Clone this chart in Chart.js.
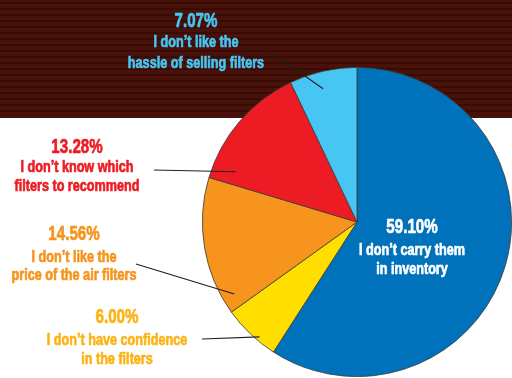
<!DOCTYPE html>
<html>
<head>
<meta charset="utf-8">
<script src="https://cdn.jsdelivr.net/npm/chart.js@4"></script>
<style>
  html, body { margin: 0; padding: 0; background: #fff; }
  #wrap { width: 512px; height: 378px; position: relative; }
</style>
</head>
<body>
<div id="wrap"><canvas id="myChart" width="512" height="378"></canvas></div>
<script>
'use strict'
// data, clockwise from 12 o'clock
let reasons = ['I don\u2019t carry them in inventory', 'I don\u2019t have confidence in the filters',
    'I don\u2019t like the price of the air filters', 'I don\u2019t know which filters to recommend',
    'I don\u2019t like the hassle of selling filters'];
let shares = [59.10, 6.00, 14.56, 13.28, 7.07];
let pctLabels = ['59.10%', '6.00%', '14.56%', '13.28%', '7.07%'];
let labelLines = [
    ['I don\u2019t carry them', 'in inventory'],
    ['I don\u2019t have confidence', 'in the filters'],
    ['I don\u2019t like the', 'price of the air filters'],
    ['I don\u2019t know which', 'filters to recommend'],
    ['I don\u2019t like the', 'hassle of selling filters']
];
let sliceColors = ['#0071bb', '#ffde00', '#f7941d', '#ed1c24', '#47c6f3'];
let textColors = ['#ffffff', '#fbb416', '#f7941d', '#ed1c24', '#47c6f3'];

// label placement: text centre x, baselines, leader start, leader end (fraction of slice angle, fraction of radius)
let layout = [
    { x: 412, y: [233, 255, 274], line: null },
    { x: 117, y: [323, 345, 364], line: [202, 339], at: [0.35, 0.975] },
    { x: 74, y: [240, 262, 280], line: [136, 264], at: [0.10, 0.92] },
    { x: 77, y: [153, 172, 191], line: [154, 170], at: [0.12, 0.85] },
    { x: 196, y: [27, 47, 68], line: [272, 53], at: [0.44, 0.89] }
];

const FONT = '"Liberation Sans", Arial, sans-serif';

// condensed look: squash a bold face horizontally and thicken it a touch
function squeezedText(ctx, txt, x, y, sx) {
    ctx.save();
    ctx.translate(x, y);
    ctx.scale(sx, 1);
    ctx.fillText(txt, 0, 0);
    ctx.strokeText(txt, 0, 0);
    ctx.restore();
}

let backdrop = {
    id: 'backdrop',
    beforeDraw(chart) {
        let ctx = chart.ctx;
        ctx.save();
        ctx.fillStyle = '#ffffff';
        ctx.fillRect(0, 0, chart.width, chart.height);
        ctx.fillStyle = '#48120a';
        ctx.fillRect(0, 0, chart.width, 118);
        ctx.fillStyle = '#390b05';
        for (let y = 2; y < 116; y += 6) {
            ctx.fillRect(0, y, chart.width, 2);
        }
        ctx.restore();
    }
};

let labels = {
    id: 'labels',
    afterDraw(chart) {
        let ctx = chart.ctx;
        let arcs = chart.getDatasetMeta(0).data;
        ctx.save();
        for (let i = 0; i < arcs.length; i++) {
            let a = arcs[i];
            let L = layout[i];
            if (L.line) {
                let ang = a.startAngle + (a.endAngle - a.startAngle) * L.at[0];
                let r = a.outerRadius * L.at[1];
                ctx.beginPath();
                ctx.moveTo(L.line[0], L.line[1]);
                ctx.lineTo(a.x + Math.cos(ang) * r, a.y + Math.sin(ang) * r);
                ctx.strokeStyle = '#231f20';
                ctx.lineWidth = 1.2;
                ctx.stroke();
            }
            ctx.fillStyle = textColors[i];
            ctx.strokeStyle = textColors[i];
            ctx.lineWidth = 0.7;
            ctx.lineJoin = 'round';
            ctx.textAlign = 'center';
            ctx.textBaseline = 'alphabetic';
            ctx.font = 'bold 21px ' + FONT;
            squeezedText(ctx, pctLabels[i], L.x, L.y[0], 0.72);
            ctx.font = 'bold 16px ' + FONT;
            squeezedText(ctx, labelLines[i][0], L.x, L.y[1], 0.79);
            squeezedText(ctx, labelLines[i][1], L.x, L.y[2], 0.79);
        }
        ctx.restore();
    }
};

let ctx = document.getElementById('myChart').getContext('2d');
let myChart = new Chart(ctx, {
    type: 'pie',
    data: {
        labels: reasons,
        datasets: [{
            data: shares,
            backgroundColor: sliceColors,
            borderColor: '#3a3a3a',
            borderWidth: 0.8
        }]
    },
    options: {
        responsive: false,
        animation: false,
        layout: { padding: { left: 202, top: 67, right: 0, bottom: 1 } },
        plugins: {
            legend: { display: false },
            tooltip: { enabled: false }
        }
    },
    plugins: [backdrop, labels]
});
</script>
</body>
</html>
